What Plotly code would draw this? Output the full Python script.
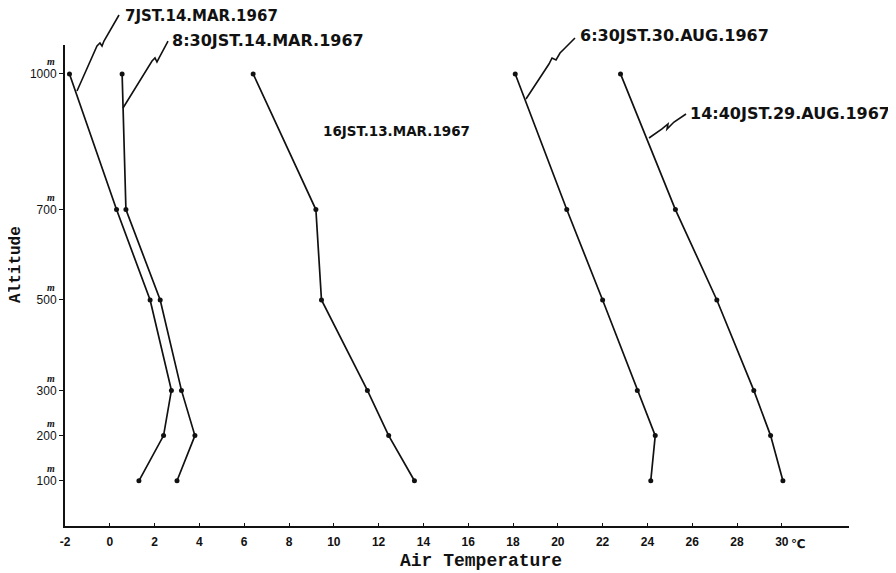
import plotly.graph_objects as go

# ---- data ----
altitude = [1000, 700, 500, 300, 200, 100]
t_0700_14mar = [-1.8, 0.3, 1.8, 2.75, 2.4, 1.3]
t_0830_14mar = [0.55, 0.72, 2.25, 3.2, 3.8, 3.0]
t_1600_13mar = [6.4, 9.2, 9.45, 11.5, 12.45, 13.6]
t_0630_30aug = [18.1, 20.4, 22.0, 23.55, 24.35, 24.15]
t_1440_29aug = [22.8, 25.25, 27.1, 28.75, 29.5, 30.05]

series_names = ["7JST.14.MAR.1967", "8:30JST.14.MAR.1967", "16JST.13.MAR.1967",
                "6:30JST.30.AUG.1967", "14:40JST.29.AUG.1967"]
series_vals = [t_0700_14mar, t_0830_14mar, t_1600_13mar, t_0630_30aug, t_1440_29aug]

x_ticks = list(range(-2, 31, 2))
y_ticks = [100, 200, 300, 500, 700, 1000]

OFF = 8  # page body margin
W, H = 896 - OFF, 573 - OFF
L, R, T, B = 65 - OFF, 47, 45 - OFF, 47
XR = [-2, 33]
YR = [0, 1064]

def P(px, py):
    # screen pixel -> paper coordinates
    fx, fy = px - OFF, py - OFF
    return (fx - L) / (W - L - R), (H - B - fy) / (H - T - B)

fig = go.Figure()
for name, vals in zip(series_names, series_vals):
    fig.add_trace(go.Scatter(
        x=vals, y=altitude, mode="lines+markers", name=name,
        line=dict(color="#111", width=1.7),
        marker=dict(color="#111", size=5),
        cliponaxis=False, showlegend=False))

# labels with zig-zag leaders (decoration, in screen pixels)
labels = [
    ("7JST.14.MAR.1967", 123, 16, 15, [(77, 91), (97, 46), (100, 43), (102, 46), (104, 41), (119, 15)]),
    ("8:30JST.14.MAR.1967", 170, 40, 16, [(123, 108), (152, 61), (155, 58), (157, 62), (160, 56), (168, 41)]),
    ("16JST.13.MAR.1967", 321, 131, 13.5, None),
    ("6:30JST.30.AUG.1967", 578, 35, 16, [(526, 99), (549, 64), (552, 58), (556, 60), (560, 53), (565, 48), (575, 38)]),
    ("14:40JST.29.AUG.1967", 688, 114, 16, [(649, 138), (662, 129), (668, 124), (667, 129), (674, 122), (686, 114)]),
]
annotations = []
shapes = []
for text, lx, ly, fs, path in labels:
    ax_, ay_ = P(lx, ly)
    annotations.append(dict(text=text, x=ax_, y=ay_, xref="paper", yref="paper",
                            xanchor="left", yanchor="middle", showarrow=False,
                            font=dict(family="DejaVu Sans", size=fs, color="#111", weight="bold")))
    if path:
        pts = [P(a, b) for a, b in path]
        d = "M " + " L ".join(f"{x:.4f},{y:.4f}" for x, y in pts)
        shapes.append(dict(type="path", path=d, xref="paper", yref="paper",
                           line=dict(color="#111", width=1.6)))

# small "m" unit marks above the altitude tick labels
for yv in y_ticks:
    annotations.append(dict(text="<i>m</i>", x=0, y=yv, xref="paper", yref="y",
                            xanchor="right", yanchor="middle", xshift=-8, yshift=12,
                            showarrow=False,
                            font=dict(family="Liberation Serif", size=10, color="#111", weight="bold")))

# degree sign after 30
annotations.append(dict(text="℃", x=30, y=0, xref="x", yref="paper",
                        xanchor="left", yanchor="middle", xshift=7, yshift=-18,
                        showarrow=False,
                        font=dict(family="DejaVu Sans", size=12, color="#111", weight="bold")))

# axis titles
tx, ty = P(481, 561)
annotations.append(dict(text="Air Temperature", x=tx, y=ty, xref="paper", yref="paper",
                        xanchor="center", yanchor="middle", showarrow=False,
                        font=dict(family="Liberation Mono", size=18, color="#111", weight="bold")))
ax2, ay2 = P(16, 265)
annotations.append(dict(text="Altitude", x=ax2, y=ay2, xref="paper", yref="paper",
                        xanchor="center", yanchor="middle", showarrow=False, textangle=-90,
                        font=dict(family="Liberation Mono", size=16, color="#111", weight="bold")))

fig.update_layout(
    width=W, height=H,
    margin=dict(l=L, r=R, t=T, b=B),
    paper_bgcolor="white", plot_bgcolor="white",
    annotations=annotations, shapes=shapes,
    xaxis=dict(range=XR, tickvals=x_ticks, ticktext=[str(v) for v in x_ticks],
               showgrid=False, zeroline=False, showline=True, linecolor="#111", linewidth=2,
               ticks="inside", ticklen=3, tickcolor="#111", ticklabelstandoff=4,
               tickfont=dict(family="Liberation Sans", size=12, color="#111", weight="bold")),
    yaxis=dict(range=YR, tickvals=y_ticks, ticktext=[str(v) for v in y_ticks],
               showgrid=False, zeroline=False, showline=True, linecolor="#111", linewidth=2,
               ticks="outside", ticklen=4, tickcolor="#111",
               tickfont=dict(family="Liberation Sans", size=12, color="#111")),
)

fig.write_html("out.html")
